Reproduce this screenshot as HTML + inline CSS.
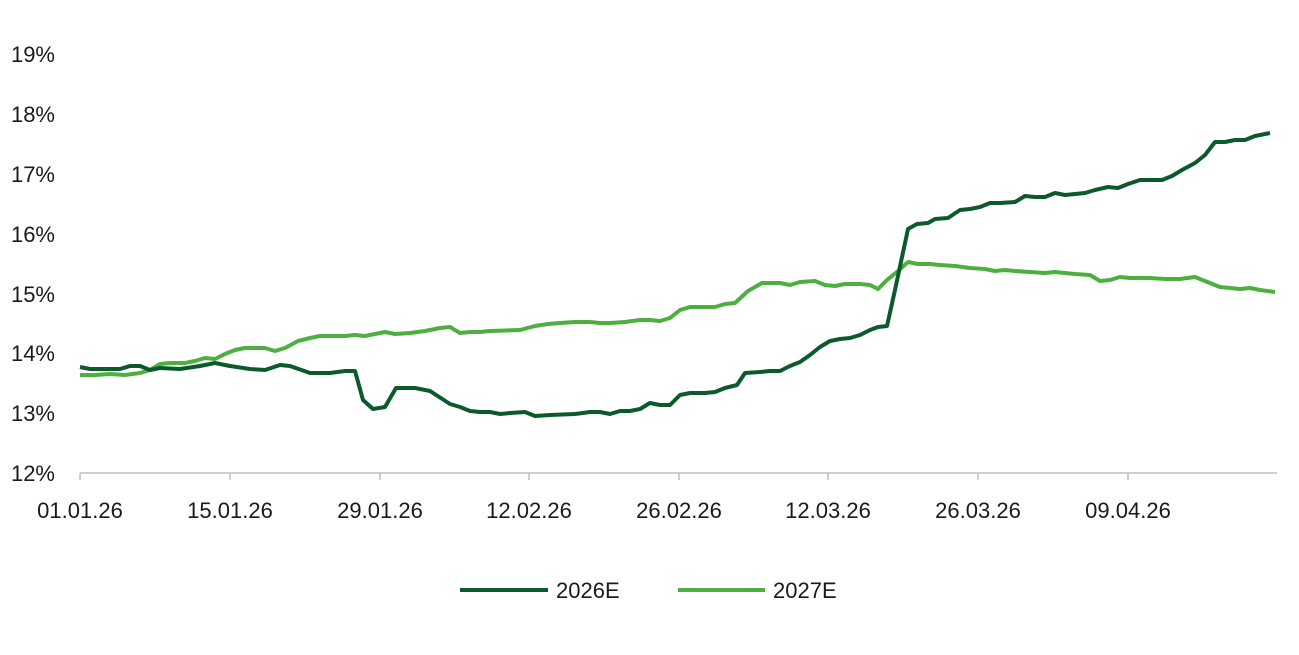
<!DOCTYPE html>
<html><head><meta charset="utf-8"><style>
body{margin:0;background:#fff}
svg text{font-family:"Liberation Sans",sans-serif;font-size:22px;fill:#1a1a1a}
</style></head><body>
<svg width="1299" height="650" viewBox="0 0 1299 650" xmlns="http://www.w3.org/2000/svg">
<g text-anchor="end">
<text x="55" y="481">12%</text><text x="55" y="421">13%</text><text x="55" y="361">14%</text>
<text x="55" y="302">15%</text><text x="55" y="242">16%</text><text x="55" y="182">17%</text>
<text x="55" y="122">18%</text><text x="55" y="62">19%</text>
</g>
<line x1="80" y1="473" x2="1277" y2="473" stroke="#bfbfbf" stroke-width="1.5"/>
<g stroke="#bfbfbf" stroke-width="1.5">
<line x1="80" y1="473" x2="80" y2="480"/><line x1="230" y1="473" x2="230" y2="480"/>
<line x1="380" y1="473" x2="380" y2="480"/><line x1="529" y1="473" x2="529" y2="480"/>
<line x1="679" y1="473" x2="679" y2="480"/><line x1="828" y1="473" x2="828" y2="480"/>
<line x1="978" y1="473" x2="978" y2="480"/><line x1="1128" y1="473" x2="1128" y2="480"/>
</g>
<g text-anchor="middle">
<text x="80" y="518">01.01.26</text><text x="230" y="518">15.01.26</text>
<text x="380" y="518">29.01.26</text><text x="529" y="518">12.02.26</text>
<text x="679" y="518">26.02.26</text><text x="828" y="518">12.03.26</text>
<text x="978" y="518">26.03.26</text><text x="1128" y="518">09.04.26</text>
</g>
<polyline fill="none" stroke="#4caf3f" stroke-width="4" stroke-linejoin="round" points="80,375 95,375 110,374 125,375 140,373 150,370 160,364 170,363 185,363 195,361 205,358 215,359 225,354 235,350 245,348 265,348 275,351 285,348 298,341 310,338 320,336 345,336 355,335 365,336 385,332 395,334 410,333 425,331 440,328 450,327 460,333 470,332 480,332 490,331 520,330 535,326 548,324 560,323 575,322 590,322 600,323 610,323 625,322 640,320 650,320 660,321 670,318 680,310 690,307 715,307 725,304 735,303 748,291 762,283 780,283 790,285 800,282 815,281 825,285 835,286 845,284 860,284 870,285 878,289 887,280 898,271 908,262 918,264 930,264 940,265 955,266 970,268 985,269 995,271 1005,270 1015,271 1030,272 1045,273 1055,272 1075,274 1090,275 1100,281 1110,280 1120,277 1130,278 1150,278 1165,279 1180,279 1195,277 1205,281 1220,287 1240,289 1250,288 1260,290 1275,292"/>
<polyline fill="none" stroke="#0b5a2c" stroke-width="4" stroke-linejoin="round" points="80,367 90,369 120,369 130,366 140,366 150,370 160,368 180,369 200,366 215,363 230,366 250,369 265,370 280,365 290,366 310,373 330,373 345,371 355,371 363,400 373,409 385,407 396,388 415,388 430,391 450,404 460,407 470,411 480,412 490,412 500,414 510,413 525,412 535,416 550,415 575,414 590,412 600,412 610,414 620,411 630,411 640,409 650,403 660,405 670,405 680,395 690,393 705,393 715,392 725,388 737,385 745,373 760,372 770,371 780,371 790,366 800,362 810,355 820,347 830,341 840,339 850,338 860,335 870,330 878,327 887,326 895,290 908,229 917,224 928,223 935,219 948,218 960,210 970,209 980,207 990,203 1000,203 1015,202 1025,196 1035,197 1045,197 1055,193 1065,195 1075,194 1085,193 1095,190 1108,187 1118,188 1128,184 1140,180 1150,180 1162,180 1172,176 1182,170 1195,163 1205,155 1215,142 1225,142 1235,140 1245,140 1255,136 1270,133"/>
<line x1="460" y1="590" x2="548" y2="590" stroke="#0b5a2c" stroke-width="4"/>
<text x="556" y="598">2026E</text>
<line x1="678" y1="590" x2="765" y2="590" stroke="#4caf3f" stroke-width="4"/>
<text x="773" y="598">2027E</text>
</svg>
</body></html>
